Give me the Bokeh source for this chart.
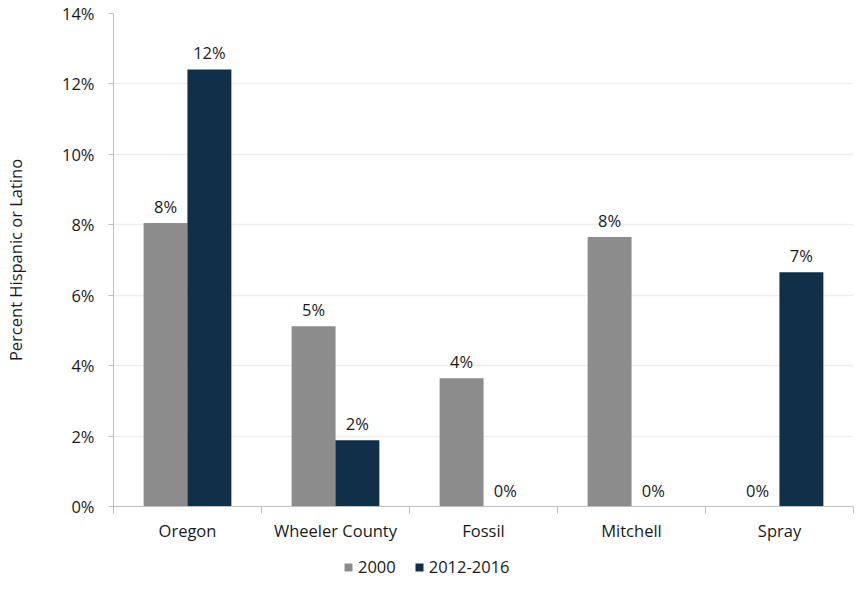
import numpy as np
from bokeh.plotting import figure
from bokeh.layouts import column
from bokeh.models import (ColumnDataSource, FixedTicker, PrintfTickFormatter, LabelSet,
                          Legend, LegendItem, Range1d)
from bokeh.core.properties import value
from bokeh.embed import file_html
from bokeh.resources import INLINE

categories = ["Oregon", "Wheeler County", "Fossil", "Mitchell", "Spray"]
series_names = ["2000", "2012-2016"]
values_2000 = [8.05, 5.12, 3.64, 7.65, 0.0]
values_2012 = [12.41, 1.88, 0.0, 0.0, 6.65]
y_ticks = [0, 2, 4, 6, 8, 10, 12, 14]

GRAY = "#8C8C8C"
NAVY = "#10304A"
FONT = "Open Sans"
FS = "16.5px"
TXT = "#1A1A1A"

centers = np.arange(len(categories)) + 0.5
off = 0.148
w = 0.297

src1 = ColumnDataSource(dict(x=centers - off, top=values_2000,
                             label=[f"{round(v)}%" for v in values_2000]))
src2 = ColumnDataSource(dict(x=centers + off, top=values_2012,
                             label=[f"{round(v)}%" for v in values_2012]))

p = figure(frame_width=740, frame_height=493, output_backend="svg", toolbar_location=None,
           x_range=Range1d(0, len(categories)), y_range=Range1d(0, 14),
           min_border_left=113, min_border_right=3, min_border_top=13, min_border_bottom=48)
p.outline_line_color = None
p.background_fill_color = "white"

r1 = p.vbar(x="x", top="top", width=w, source=src1, fill_color=GRAY, line_color=None)
r2 = p.vbar(x="x", top="top", width=w, source=src2, fill_color=NAVY, line_color=None)

for s in (src1, src2):
    p.add_layout(LabelSet(x="x", y="top", text="label", source=s, text_align="center",
                          text_baseline="bottom", y_offset=5, text_font=value(FONT),
                          text_font_size=FS, text_color=TXT))

# x axis: labels at category centres, ticks at boundaries
xa = p.xaxis[0]
xa.ticker = FixedTicker(ticks=list(centers), minor_ticks=list(range(len(categories) + 1)))
xa.major_label_overrides = {float(c): n for c, n in zip(centers, categories)}
xa.major_tick_line_color = None
xa.minor_tick_out = 7
xa.minor_tick_in = 0
xa.minor_tick_line_color = "#BFBFBF"
xa.axis_line_color = "#BFBFBF"
xa.major_label_text_font = FONT
xa.major_label_text_font_size = FS
xa.major_label_text_color = TXT
xa.major_label_standoff = 5

ya = p.yaxis[0]
ya.ticker = FixedTicker(ticks=y_ticks)
ya.formatter = PrintfTickFormatter(format="%d%%")
ya.axis_line_color = "#BFBFBF"
ya.major_tick_line_color = "#BFBFBF"
ya.major_tick_out = 5
ya.major_tick_in = 0
ya.minor_tick_line_color = None
ya.major_label_text_font = FONT
ya.major_label_text_font_size = FS
ya.major_label_text_color = TXT
ya.major_label_standoff = 14
ya.axis_label = "Percent Hispanic or Latino"
ya.axis_label_text_font = FONT
ya.axis_label_text_font_size = FS
ya.axis_label_text_font_style = "normal"
ya.axis_label_text_color = TXT
ya.axis_label_standoff = 32

p.xgrid.grid_line_color = None
p.ygrid.grid_line_color = "#EDEDED"
p.ygrid.grid_line_width = 1.5

# legend strip below the chart (same data, ranges put the bars out of view)
lg = figure(width=856, height=28, output_backend="svg", toolbar_location=None,
            x_range=Range1d(100, 101), y_range=Range1d(100, 101),
            min_border_left=0, min_border_right=0, min_border_top=0, min_border_bottom=0)
lg.axis.visible = False
lg.grid.visible = False
lg.outline_line_color = None
l1 = lg.vbar(x="x", top="top", width=w, source=src1, fill_color=GRAY, line_color=None)
l2 = lg.vbar(x="x", top="top", width=w, source=src2, fill_color=NAVY, line_color=None)
legend = Legend(items=[LegendItem(label=series_names[0], renderers=[l1]),
                       LegendItem(label=series_names[1], renderers=[l2])],
                orientation="horizontal", location=(230, 4),
                label_text_font=FONT, label_text_font_size=FS, label_text_color=TXT,
                glyph_width=10, glyph_height=10, label_standoff=5, spacing=18,
                border_line_color=None, background_fill_alpha=0,
                margin=0, padding=0)
lg.add_layout(legend, "center")

layout = column(p, lg, spacing=0)
open("out.html", "w").write(file_html(layout, INLINE))
